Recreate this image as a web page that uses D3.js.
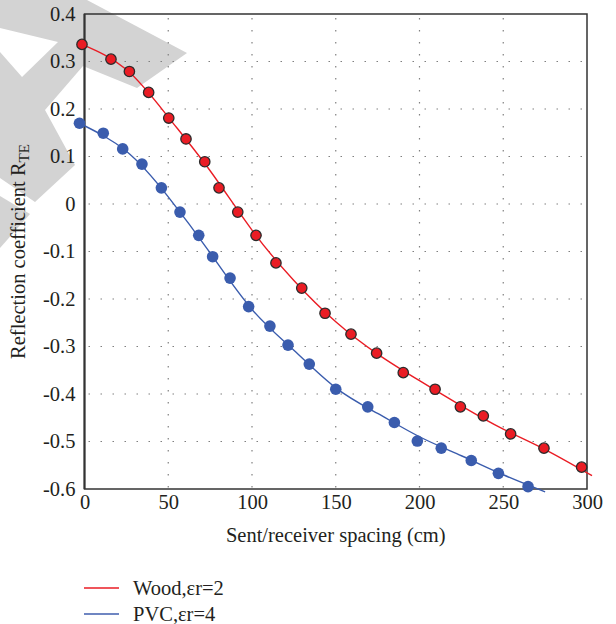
<!DOCTYPE html>
<html>
<head>
<meta charset="utf-8">
<script src="https://cdn.jsdelivr.net/npm/d3@7"></script>
<style>
  body { margin: 0; background: #fff; }
  svg { display: block; }
  svg text.serif { font-family: "Liberation Serif", serif; fill: #231f20; }
</style>
</head>
<body>
<svg width="616" height="624"></svg>
<script>
// measured points (cm, R_TE)
const woodX = [-1.5, 15.8, 26.8, 38.3, 50.3, 60.6, 71.8, 80.3, 91.5, 102.4, 114.3, 129.7,
  143.6, 159.1, 174.4, 190.3, 209.3, 224.4, 238.1, 254.4, 274.3, 296.8];
const woodY = [0.336, 0.305, 0.279, 0.235, 0.181, 0.137, 0.089, 0.034, -0.017, -0.066, -0.124, -0.177,
  -0.230, -0.274, -0.314, -0.355, -0.390, -0.427, -0.446, -0.484, -0.514, -0.554];

const pvcX = [-3, 11.2, 22.8, 34.3, 45.9, 57.0, 68.2, 76.5, 86.9, 98.0, 110.7, 121.5,
  134.2, 150.0, 169.1, 185.0, 198.7, 213.0, 230.9, 247.1, 264.8];
const pvcY = [0.170, 0.149, 0.116, 0.084, 0.034, -0.017, -0.066, -0.111, -0.156, -0.216, -0.257, -0.297,
  -0.337, -0.390, -0.427, -0.460, -0.499, -0.514, -0.540, -0.567, -0.595];

// fitted curves
const woodFitX = [-1.5, 25, 50, 75, 100, 125, 150, 175, 200, 225, 250, 275, 303];
const woodFitY = [0.336, 0.283, 0.183, 0.070, -0.055, -0.161, -0.248, -0.316, -0.372, -0.425, -0.474, -0.517, -0.572];
const pvcFitX = [-3, 25, 50, 75, 100, 125, 150, 175, 200, 225, 250, 275];
const pvcFitY = [0.170, 0.111, 0.015, -0.103, -0.222, -0.308, -0.387, -0.441, -0.490, -0.530, -0.570, -0.606];

const xTicks = [0, 50, 100, 150, 200, 250, 300];
const yTicks = [0.4, 0.3, 0.2, 0.1, 0, -0.1, -0.2, -0.3, -0.4, -0.5, -0.6];
const seriesNames = ["Wood,\u03b5r=2", "PVC,\u03b5r=4"];

// grey watermark in the corner
const watermark = [
  [[0, 0], [87, 0], [187, 53], [137, 88], [83, 66], [45, 110], [75, 165], [35, 202], [0, 178],
   [0, 52], [22, 77], [58, 42], [0, 28]],
  [[0, 196], [30, 214], [0, 248]]
];

const svg = d3.select("svg");
const plotLeft = 84.5, plotRight = 587, plotTop = 14, plotBottom = 489;

const x = d3.scaleLinear().domain([0, 300]).range([plotLeft, plotRight]);
const y = d3.scaleLinear().domain([-0.6, 0.4]).range([plotBottom, plotTop]);

const red = "#ea1c24", blue = "#3a5cad";

svg.append("g")
  .selectAll("polygon")
  .data(watermark)
  .join("polygon")
  .attr("points", (d) => d.join(" "))
  .attr("fill", "#d3d3d3");

// dotted grid
const grid = svg.append("g").attr("stroke", "#808080").attr("stroke-width", 1.2).attr("stroke-dasharray", "1.5,10.5");
grid.selectAll(".gx")
  .data(xTicks.slice(1, -1))
  .join("line")
  .attr("x1", (d) => x(d)).attr("x2", (d) => x(d))
  .attr("y1", plotTop + 4).attr("y2", plotBottom);
grid.selectAll(".gy")
  .data(yTicks.slice(1, -1))
  .join("line")
  .attr("x1", plotLeft + 4).attr("x2", plotRight)
  .attr("y1", (d) => y(d)).attr("y2", (d) => y(d));

// frame
svg.append("rect")
  .attr("x", plotLeft).attr("y", plotTop)
  .attr("width", plotRight - plotLeft).attr("height", plotBottom - plotTop)
  .attr("fill", "none").attr("stroke", "#333").attr("stroke-width", 1.5);
svg.append("line")
  .attr("x1", plotLeft).attr("x2", plotLeft).attr("y1", plotTop).attr("y2", plotBottom)
  .attr("stroke", "#333").attr("stroke-width", 2);

const fmt = (d) => (d === 0 ? "0" : d3.format(".1f")(d).replace("\u2212", "-"));

const xAxis = svg.append("g")
  .attr("transform", `translate(0,${plotBottom})`)
  .call(d3.axisBottom(x).tickValues(xTicks).tickSize(0).tickPadding(5).tickFormat((d) => d));
const yAxis = svg.append("g")
  .attr("transform", `translate(${plotLeft},0)`)
  .call(d3.axisLeft(y).tickValues(yTicks).tickSize(0).tickPadding(9).tickFormat(fmt));
[xAxis, yAxis].forEach((a) => {
  a.select(".domain").remove();
  a.selectAll("text").attr("class", "serif").attr("font-size", 20.5);
});
yAxis.selectAll("text").attr("dy", "0.3em");

// axis titles
svg.append("text")
  .attr("class", "serif")
  .attr("x", (plotLeft + plotRight) / 2).attr("y", 542)
  .attr("text-anchor", "middle").attr("font-size", 20.5)
  .text("Sent/receiver spacing (cm)");

const yTitle = svg.append("text")
  .attr("class", "serif")
  .attr("transform", `translate(25,${(plotTop + plotBottom) / 2}) rotate(-90)`)
  .attr("text-anchor", "middle").attr("font-size", 20.5);
yTitle.append("tspan").text("Reflection coefficient R");
yTitle.append("tspan").attr("font-size", 15).attr("dy", 4).text("TE");

// fitted lines
const line = d3.line().x((d) => x(d[0])).y((d) => y(d[1])).curve(d3.curveNatural);
svg.append("path")
  .attr("d", line(d3.zip(woodFitX, woodFitY)))
  .attr("fill", "none").attr("stroke", red).attr("stroke-width", 1.4);
svg.append("path")
  .attr("d", line(d3.zip(pvcFitX, pvcFitY)))
  .attr("fill", "none").attr("stroke", blue).attr("stroke-width", 1.4);

// markers
svg.append("g")
  .selectAll("circle")
  .data(d3.zip(pvcX, pvcY))
  .join("circle")
  .attr("cx", (d) => x(d[0])).attr("cy", (d) => y(d[1]))
  .attr("r", 5.8).attr("fill", blue);
svg.append("g")
  .selectAll("circle")
  .data(d3.zip(woodX, woodY))
  .join("circle")
  .attr("cx", (d) => x(d[0])).attr("cy", (d) => y(d[1]))
  .attr("r", 5.2).attr("fill", red).attr("stroke", "#2b2b2b").attr("stroke-width", 1.3);

// legend
const legend = svg.append("g")
  .selectAll("g")
  .data(seriesNames)
  .join("g")
  .attr("transform", (d, i) => `translate(84,${588 + i * 26})`);
legend.append("line")
  .attr("x1", 0).attr("x2", 35)
  .attr("stroke", (d, i) => (i === 0 ? red : "#6f86c2")).attr("stroke-width", (d, i) => (i === 0 ? 1.4 : 2));
legend.append("text")
  .attr("class", "serif")
  .attr("x", 49).attr("y", 6.5)
  .attr("font-size", 20.5)
  .text((d) => d);
</script>
</body>
</html>
